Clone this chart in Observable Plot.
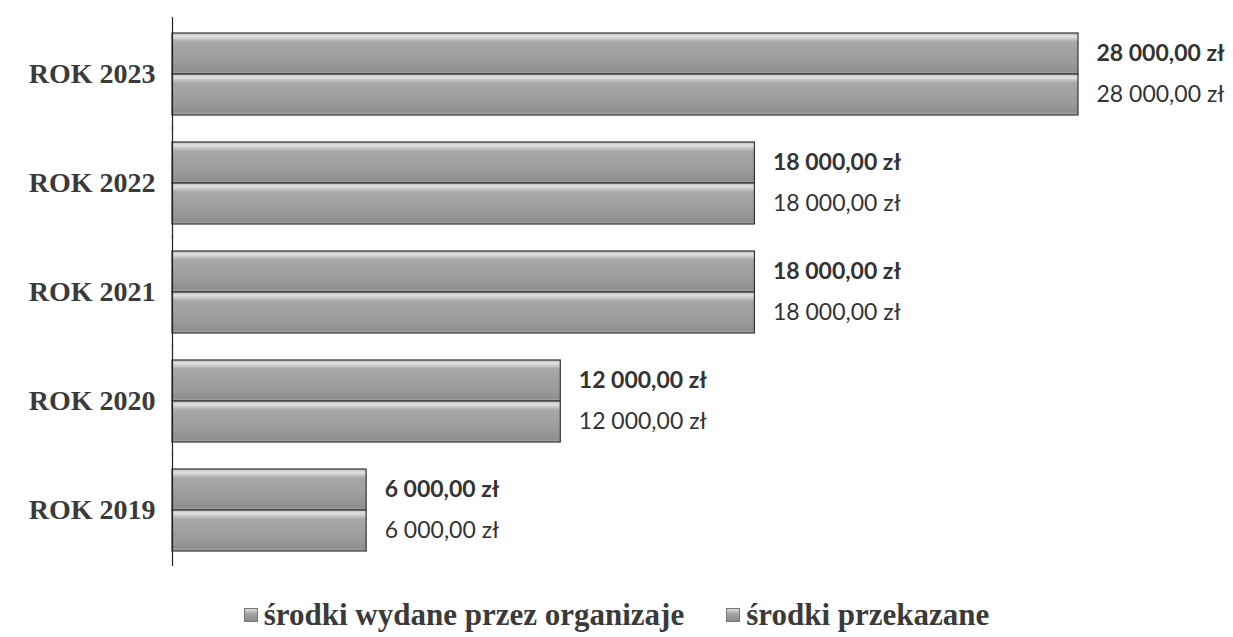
<!DOCTYPE html>
<html>
<head>
<meta charset="utf-8">
<script src="https://cdn.jsdelivr.net/npm/d3@7"></script>
<script src="https://cdn.jsdelivr.net/npm/@observablehq/plot@0.6"></script>
<style>
  html, body { margin: 0; padding: 0; background: #fff; }
  #chart svg { display: block; overflow: visible; }
  .legend { display: flex; justify-content: center; align-items: center; gap: 42px; height: 55px; padding-top: 10px;
    font-family: "Liberation Serif", serif; font-weight: bold; font-size: 31px; color: #3a3a3a; box-sizing: border-box; }
  .legend .item { display: flex; align-items: center; }
  .legend .sw { width: 12px; height: 12px; margin-right: 6px; border: 1px solid #777;
    background: linear-gradient(#dcdcdc, #a0a0a0 45%, #8c8c8c); }
</style>
</head>
<body>
<div id="chart"></div>
<div class="legend" id="legend"></div>
<script>
const years = [2023, 2022, 2021, 2020, 2019];
const yearLabels = ["ROK 2023", "ROK 2022", "ROK 2021", "ROK 2020", "ROK 2019"];
const seriesNames = ["środki wydane przez organizaje", "środki przekazane"];
const wydane = [28000, 18000, 18000, 12000, 6000];
const przekazane = [28000, 18000, 18000, 12000, 6000];

const pl = d3.formatLocale({decimal: ",", thousands: "\u00a0", grouping: [3], currency: ["", " zł"]});
const fmt = pl.format("$,.2f");

const data = [];
years.forEach((y, i) => {
  data.push({year: y, series: seriesNames[1], value: przekazane[i], top: true});
  data.push({year: y, series: seriesNames[0], value: wydane[i], top: false});
});

const plot = Plot.plot({
  width: 1233,
  height: 582,
  marginLeft: 172,
  marginRight: 155,
  marginTop: 31,
  marginBottom: 31,
  x: {domain: [0, 28000], axis: null},
  y: {domain: [seriesNames[1], seriesNames[0]], axis: null, padding: 0},
  fy: {domain: years, padding: 0.24},
  marks: [
    Plot.axisFy({anchor: "left", tickSize: 0, tickPadding: 17, label: null,
      tickFormat: d => yearLabels[years.indexOf(d)],
      fontSize: 28, fontFamily: "Liberation Serif", fontWeight: "bold", fill: "#3a3a3a"}),
    Plot.barX(data, {x: "value", y: "series", fy: "year", fill: "url(#barGrad)", stroke: "#333", strokeWidth: 1.2}),
    Plot.text(data.filter(d => d.top), {x: "value", y: "series", fy: "year", text: d => fmt(d.value),
      dx: 18, textAnchor: "start", fontFamily: "Lato", fontWeight: "bold", fontSize: 23, fill: "#333"}),
    Plot.text(data.filter(d => !d.top), {x: "value", y: "series", fy: "year", text: d => fmt(d.value),
      dx: 18, textAnchor: "start", fontFamily: "Lato", fontSize: 23, fill: "#333"}),
    Plot.ruleX([0], {stroke: "#222", strokeWidth: 1.2, insetTop: -15, insetBottom: -15})
  ]
});

const svg = d3.select(plot);
const defs = svg.insert("defs", ":first-child");
const g = defs.append("linearGradient").attr("id", "barGrad").attr("x1", 0).attr("y1", 0).attr("x2", 0).attr("y2", 1);
[[0, "#b8b8b8"], [0.08, "#e2e2e2"], [0.22, "#a8a8a8"], [0.75, "#999"], [0.93, "#8e8e8e"], [1, "#b0b0b0"]]
  .forEach(([o, c]) => g.append("stop").attr("offset", o).attr("stop-color", c));
document.getElementById("chart").appendChild(plot);

const legend = d3.select("#legend");
seriesNames.forEach(s => {
  const it = legend.append("div").attr("class", "item");
  it.append("div").attr("class", "sw");
  it.append("span").text(s);
});
</script>
</body>
</html>
